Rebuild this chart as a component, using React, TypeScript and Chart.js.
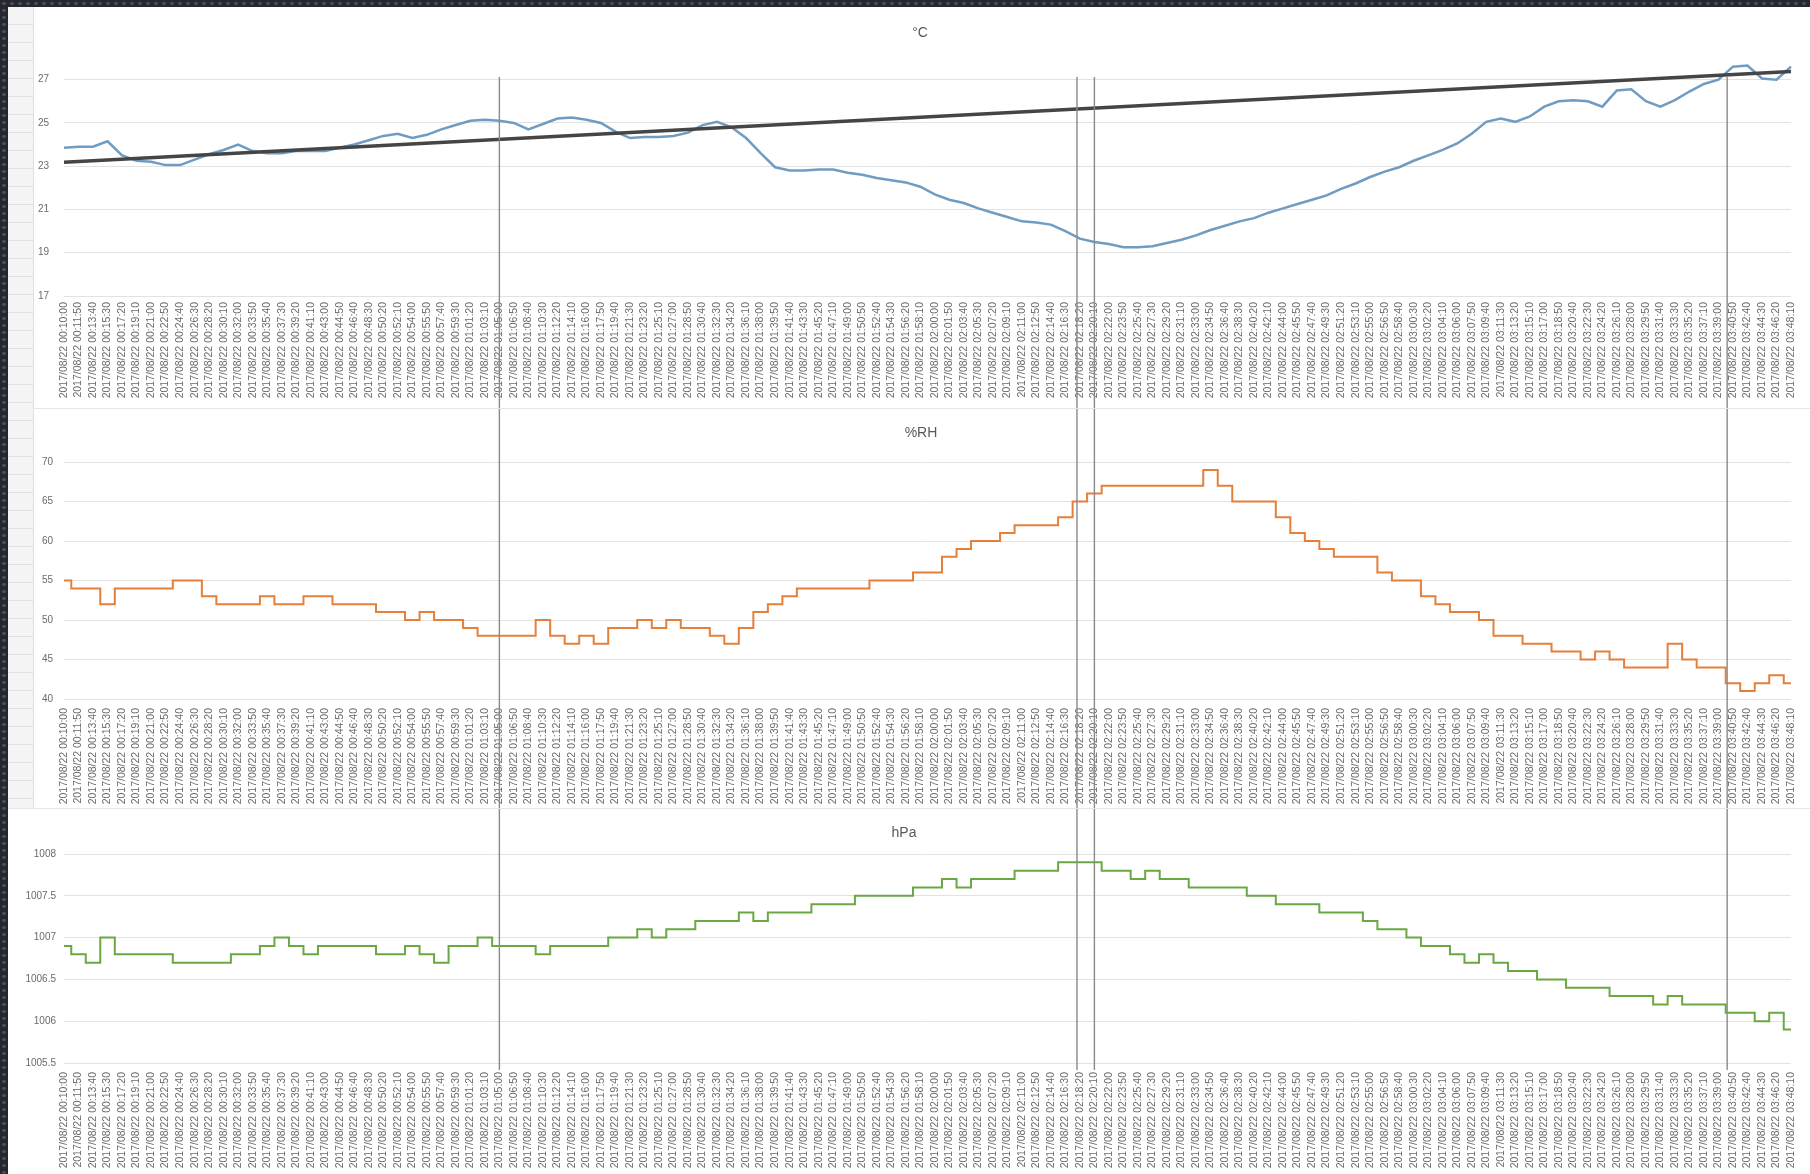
import React, { useEffect, useRef } from "react";
import { Chart, registerables } from "chart.js";
Chart.register(...registerables);

// ---- categories (timestamps every 110 s) ----
const DATE_PREFIX = "2017/08/22";
const START_TIME = "00:10:00";
const STEP_SECONDS = 110;
const POINT_COUNT = 120;

function buildLabels(): string[] {
  const [h, m, s] = START_TIME.split(":").map(Number);
  const start = h * 3600 + m * 60 + s;
  const out: string[] = [];
  for (let i = 0; i < POINT_COUNT; i++) {
    const t = start + i * STEP_SECONDS;
    const hh = String(Math.floor(t / 3600)).padStart(2, "0");
    const mm = String(Math.floor((t % 3600) / 60)).padStart(2, "0");
    const ss = String(t % 60).padStart(2, "0");
    out.push(`${DATE_PREFIX} ${hh}:${mm}:${ss}`);
  }
  return out;
}
const timeLabels = buildLabels();

// ---- series ----
const temperature = [
  23.85, 23.9, 23.9, 24.15, 23.5, 23.25, 23.2, 23.05, 23.05, 23.3,
  23.55, 23.75, 24.0, 23.7, 23.6, 23.6, 23.7, 23.7, 23.7, 23.85,
  24.0, 24.2, 24.4, 24.5, 24.3, 24.45, 24.7, 24.9, 25.1, 25.15,
  25.1, 25.0, 24.7, 24.95, 25.2, 25.25, 25.15, 25.0, 24.6, 24.3,
  24.35, 24.35, 24.4, 24.55, 24.9, 25.05, 24.8, 24.3, 23.6, 22.95,
  22.8, 22.8, 22.85, 22.85, 22.7, 22.6, 22.45, 22.35, 22.25, 22.05,
  21.7, 21.45, 21.3, 21.05, 20.85, 20.65, 20.45, 20.4, 20.3, 20.0,
  19.65, 19.5, 19.4, 19.25, 19.25, 19.3, 19.45, 19.6, 19.8, 20.05,
  20.25, 20.45, 20.6, 20.85, 21.05, 21.25, 21.45, 21.65, 21.95, 22.2,
  22.5, 22.75, 22.95, 23.25, 23.5, 23.75, 24.05, 24.5, 25.05, 25.2,
  25.05, 25.3, 25.75, 26.0, 26.05, 26.0, 25.75, 26.5, 26.55, 26.0,
  25.75, 26.05, 26.45, 26.8, 27.0, 27.6, 27.65, 27.05, 27.0, 27.6,
];

const humidity = [
  55, 54, 54, 52, 54, 54, 54, 54, 55, 55,
  53, 52, 52, 52, 53, 52, 52, 53, 53, 52,
  52, 52, 51, 51, 50, 51, 50, 50, 49, 48,
  48, 48, 48, 50, 48, 47, 48, 47, 49, 49,
  50, 49, 50, 49, 49, 48, 47, 49, 51, 52,
  53, 54, 54, 54, 54, 54, 55, 55, 55, 56,
  56, 58, 59, 60, 60, 61, 62, 62, 62, 63,
  65, 66, 67, 67, 67, 67, 67, 67, 67, 69,
  67, 65, 65, 65, 63, 61, 60, 59, 58, 58,
  58, 56, 55, 55, 53, 52, 51, 51, 50, 48,
  48, 47, 47, 46, 46, 45, 46, 45, 44, 44,
  44, 47, 45, 44, 44, 42, 41, 42, 43, 42,
];

const pressure = [
  1006.9, 1006.8, 1006.7, 1007.0, 1006.8, 1006.8, 1006.8, 1006.8, 1006.7, 1006.7,
  1006.7, 1006.7, 1006.8, 1006.8, 1006.9, 1007.0, 1006.9, 1006.8, 1006.9, 1006.9,
  1006.9, 1006.9, 1006.8, 1006.8, 1006.9, 1006.8, 1006.7, 1006.9, 1006.9, 1007.0,
  1006.9, 1006.9, 1006.9, 1006.8, 1006.9, 1006.9, 1006.9, 1006.9, 1007.0, 1007.0,
  1007.1, 1007.0, 1007.1, 1007.1, 1007.2, 1007.2, 1007.2, 1007.3, 1007.2, 1007.3,
  1007.3, 1007.3, 1007.4, 1007.4, 1007.4, 1007.5, 1007.5, 1007.5, 1007.5, 1007.6,
  1007.6, 1007.7, 1007.6, 1007.7, 1007.7, 1007.7, 1007.8, 1007.8, 1007.8, 1007.9,
  1007.9, 1007.9, 1007.8, 1007.8, 1007.7, 1007.8, 1007.7, 1007.7, 1007.6, 1007.6,
  1007.6, 1007.6, 1007.5, 1007.5, 1007.4, 1007.4, 1007.4, 1007.3, 1007.3, 1007.3,
  1007.2, 1007.1, 1007.1, 1007.0, 1006.9, 1006.9, 1006.8, 1006.7, 1006.8, 1006.7,
  1006.6, 1006.6, 1006.5, 1006.5, 1006.4, 1006.4, 1006.4, 1006.3, 1006.3, 1006.3,
  1006.2, 1006.3, 1006.2, 1006.2, 1006.2, 1006.1, 1006.1, 1006.0, 1006.1, 1005.9,
];

// trend line endpoints (first and last category)
const trendStart = 23.18;
const trendEnd = 27.38;

// vertical marker positions (category index, fractional)
const markerIndices = [30, 69.8, 71, 114.6];

// y ticks
const tempTicks = [17, 19, 21, 23, 25, 27];
const humTicks = [40, 45, 50, 55, 60, 65, 70];
const presTicks = [1005.5, 1006, 1006.5, 1007, 1007.5, 1008];

const FONT = "'Liberation Sans', Arial, sans-serif";
const TEXT = "#6a6a6a";

const markerPlugin = {
  id: "markers",
  afterDraw(chart: any, _args: any, opts: any) {
    const x = chart.scales.x;
    const ctx = chart.ctx;
    ctx.save();
    ctx.strokeStyle = "#8a8a8a";
    ctx.lineWidth = 1.4;
    for (const m of markerIndices) {
      const px = x.getPixelForValue(m);
      ctx.beginPath();
      ctx.moveTo(px, opts.top);
      ctx.lineTo(px, opts.bottom == null ? chart.height : opts.bottom);
      ctx.stroke();
    }
    ctx.restore();
  },
};

type PanelCfg = {
  title: string;
  left: number;
  top: number;
  titleX: number;
  titleY: number;
  width: number;
  height: number;
  yWidth: number;
  padRight: number;
  padTop: number;
  xAxisHeight: number;
  xTickPad: number;
  yTickPad: number;
  yMin: number;
  yMax: number;
  yTicks: number[];
  datasets: any[];
  markerTop: number;
  markerBottom: number | null;
};

function Panel({ cfg }: { cfg: PanelCfg }) {
  const ref = useRef<HTMLCanvasElement>(null);
  useEffect(() => {
    if (!ref.current) return;
    const chart = new Chart(ref.current, {
      type: "line",
      data: { labels: timeLabels, datasets: cfg.datasets },
      plugins: [markerPlugin as any],
      options: {
        responsive: false,
        animation: false,
        devicePixelRatio: 1,
        layout: { padding: { left: 0, right: cfg.padRight, top: cfg.padTop, bottom: 0 } },
        plugins: {
          legend: { display: false },
          tooltip: { enabled: false },
          title: { display: false },
          markers: { top: cfg.markerTop, bottom: cfg.markerBottom },
        } as any,
        elements: { point: { radius: 0 } },
        scales: {
          x: {
            type: "category",
            offset: false,
            grid: { display: false, drawTicks: false },
            border: { display: false },
            ticks: {
              autoSkip: false,
              maxRotation: 90,
              minRotation: 90,
              padding: cfg.xTickPad,
              color: TEXT,
              font: { family: FONT, size: 10.5 },
            },
            afterFit: (s: any) => {
              s.height = cfg.xAxisHeight;
              s.paddingLeft = 0;
              s.paddingRight = 0;
            },
          },
          y: {
            min: cfg.yMin,
            max: cfg.yMax,
            grid: { color: "#e2e2e2", lineWidth: 1, drawTicks: false },
            border: { display: false },
            ticks: {
              padding: cfg.yTickPad,
              color: TEXT,
              font: { family: FONT, size: 10 },
              callback: (v: any) => String(v),
            },
            afterBuildTicks: (s: any) => {
              s.ticks = cfg.yTicks.map((v) => ({ value: v }));
            },
            afterFit: (s: any) => {
              s.width = cfg.yWidth;
              s.paddingTop = 0;
              s.paddingBottom = 0;
            },
          },
        },
      } as any,
    });
    return () => chart.destroy();
  }, []);
  return (
    <>
      <div style={{ position: "absolute", left: cfg.left, top: cfg.top }}>
        <canvas
          ref={ref}
          width={cfg.width}
          height={cfg.height}
          style={{ display: "block", width: cfg.width, height: cfg.height }}
        />
      </div>
      <div
        style={{
          position: "absolute",
          left: cfg.titleX,
          top: cfg.titleY,
          transform: "translate(-50%, -50%)",
          font: `14px ${FONT}`,
          color: "#595959",
          whiteSpace: "nowrap",
        }}
      >
        {cfg.title}
      </div>
    </>
  );
}

const trendData = temperature.map((_, i) =>
  i === 0 ? trendStart : i === temperature.length - 1 ? trendEnd : null
);

const topCfg: PanelCfg = {
  title: "°C",
  left: 33,
  top: 7,
  titleX: 920,
  titleY: 32,
  width: 1777,
  height: 401,
  yWidth: 31,
  padRight: 19,
  padTop: 51,
  xAxisHeight: 112,
  xTickPad: 6,
  yTickPad: 15,
  yMin: 17,
  yMax: 28,
  yTicks: tempTicks,
  markerTop: 70,
  markerBottom: null,
  datasets: [
    {
      label: "trend",
      data: trendData,
      spanGaps: true,
      borderColor: "#454545",
      borderWidth: 3.5,
      pointRadius: 0,
    },
    {
      label: "°C",
      data: temperature,
      borderColor: "#6f9cc2",
      borderWidth: 2.5,
      pointRadius: 0,
      tension: 0,
    },
  ],
};

const midCfg: PanelCfg = {
  title: "%RH",
  left: 33,
  top: 408,
  titleX: 921,
  titleY: 432,
  width: 1777,
  height: 400,
  yWidth: 31,
  padRight: 19,
  padTop: 54,
  xAxisHeight: 109,
  xTickPad: 9,
  yTickPad: 11,
  yMin: 40,
  yMax: 70,
  yTicks: humTicks,
  markerTop: 0,
  markerBottom: null,
  datasets: [
    {
      label: "%RH",
      data: humidity,
      borderColor: "#e57f3a",
      borderWidth: 2,
      pointRadius: 0,
      stepped: "middle",
    },
  ],
};

const botCfg: PanelCfg = {
  title: "hPa",
  left: 8,
  top: 808,
  titleX: 904,
  titleY: 832,
  width: 1792,
  height: 366,
  yWidth: 56,
  padRight: 9,
  padTop: 46,
  xAxisHeight: 111,
  xTickPad: 9,
  yTickPad: 8,
  yMin: 1005.5,
  yMax: 1008,
  yTicks: presTicks,
  markerTop: 0,
  markerBottom: 262,
  datasets: [
    {
      label: "hPa",
      data: pressure,
      borderColor: "#6aa843",
      borderWidth: 2,
      pointRadius: 0,
      stepped: "middle",
    },
  ],
};

export default function App() {
  return (
    <div
      style={{
        position: "absolute",
        left: 0,
        top: 0,
        width: 1810,
        height: 1174,
        overflow: "hidden",
        background:
          "radial-gradient(circle, #4a4d57 1.6px, transparent 2px) 0 0 / 8px 7px, #262830",
      }}
    >
      <div style={{ position: "absolute", left: 8, top: 7, right: 0, bottom: 0, background: "#fff" }} />
      <div
        style={{
          position: "absolute",
          left: 8,
          top: 7,
          width: 25,
          height: 801,
          background: "repeating-linear-gradient(to bottom, #f4f4f4 0px, #f4f4f4 17px, #e2e2e2 17px, #e2e2e2 18px)",
          borderRight: "1px solid #e0e0e0",
        }}
      />
      <Panel cfg={topCfg} />
      <Panel cfg={midCfg} />
      <Panel cfg={botCfg} />
      <div style={{ position: "absolute", left: 33, top: 408, width: 1777, height: 1, background: "#e6e6e6" }} />
      <div style={{ position: "absolute", left: 8, top: 808, width: 1802, height: 1, background: "#e6e6e6" }} />
    </div>
  );
}
